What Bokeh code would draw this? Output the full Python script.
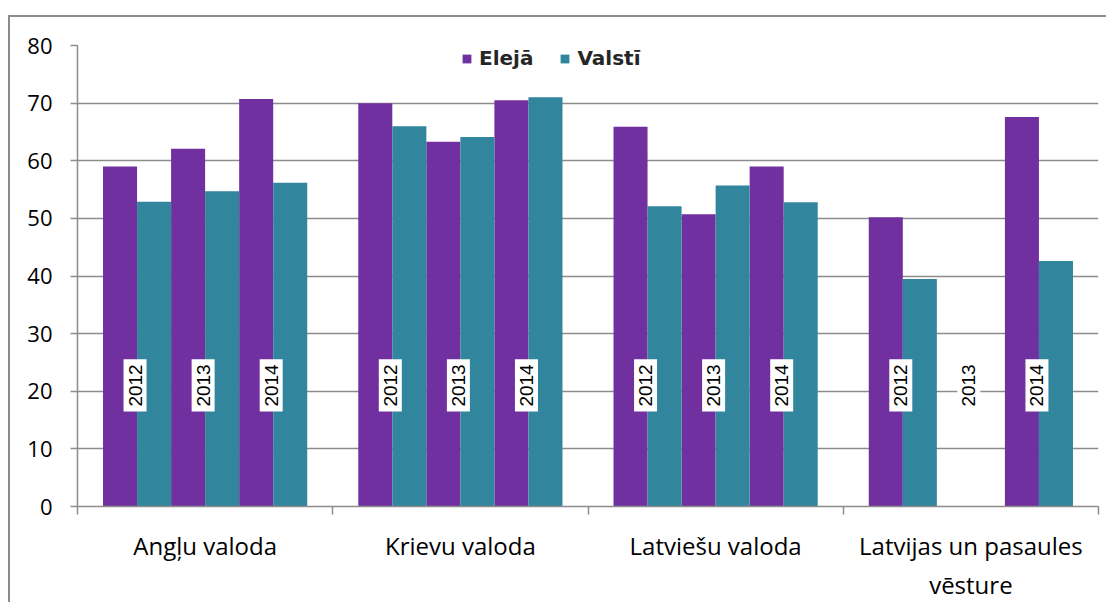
import math
from bokeh.plotting import figure
from bokeh.models import ColumnDataSource, FixedTicker, Range1d, Legend, LegendItem
from bokeh.core.properties import value
from bokeh.embed import file_html
from bokeh.resources import INLINE

# ---- data ----
categories = ["Angļu valoda", "Krievu valoda", "Latviešu valoda", "Latvijas un pasaules\nvēsture"]
years = ["2012", "2013", "2014"]
series = ["Elejā", "Valstī"]
eleja_2012 = [59.0, 70.0, 65.9, 50.2]
eleja_2013 = [62.1, 63.3, 50.7, float("nan")]
eleja_2014 = [70.7, 70.5, 59.0, 67.6]
valsti_2012 = [52.9, 66.0, 52.1, 39.5]
valsti_2013 = [54.7, 64.1, 55.7, float("nan")]
valsti_2014 = [56.2, 71.0, 52.8, 42.6]
y_ticks = [0, 10, 20, 30, 40, 50, 60, 70, 80]

eleja = [eleja_2012, eleja_2013, eleja_2014]
valsti = [valsti_2012, valsti_2013, valsti_2014]

PURPLE = "#7030A0"
TEAL = "#31859C"
GRID = "#8c8c8c"

# ---- layout of bars within each category (inner 80% of a unit slot) ----
bw = 0.8 / 6
ex, ey, vx, vy, lx, ly, lt = [], [], [], [], [], [], []
for ci in range(len(categories)):
    for yi in range(len(years)):
        base = ci + 0.1 + 2 * yi * bw
        ex.append(base + 0.5 * bw)
        ey.append(eleja[yi][ci])
        vx.append(base + 1.5 * bw)
        vy.append(valsti[yi][ci])
        lx.append(base + bw)
        ly.append(21)
        lt.append(years[yi])

src_e = ColumnDataSource(dict(x=ex, top=ey))
src_v = ColumnDataSource(dict(x=vx, top=vy))
src_l = ColumnDataSource(dict(x=lx, y=ly, text=lt))

p = figure(width=1098, height=587, output_backend="svg", toolbar_location=None,
           x_range=Range1d(0, len(categories)), y_range=Range1d(0, 80),
           min_border_left=67, min_border_top=28, min_border_right=10, min_border_bottom=92)
p.margin = (15, 0, 0, 8)
p.styles = {"border-left": "2px solid #8c8c8c", "border-top": "2px solid #8c8c8c"}
p.outline_line_color = None
p.background_fill_color = "white"
p.border_fill_color = "white"

r_e = p.vbar(x="x", top="top", width=bw, bottom=0, source=src_e, fill_color=PURPLE, line_color=None)
r_v = p.vbar(x="x", top="top", width=bw, bottom=0, source=src_v, fill_color=TEAL, line_color=None)

p.text(x="x", y="y", text="text", source=src_l, angle=math.pi / 2,
       text_align="center", text_baseline="middle",
       text_font=value("Liberation Sans"), text_font_size="19px", text_color="black",
       background_fill_color="white", padding=5, x_offset=-2)

# y axis
p.yaxis.ticker = FixedTicker(ticks=y_ticks)
p.yaxis.axis_line_color = GRID
p.yaxis.axis_line_width = 1.5
p.yaxis.major_tick_line_color = GRID
p.yaxis.major_tick_line_width = 1.5
p.yaxis.major_tick_out = 7
p.yaxis.major_tick_in = 0
p.yaxis.minor_tick_line_color = None
p.yaxis.major_label_text_font = "Open Sans"
p.yaxis.major_label_text_font_size = "22px"
p.yaxis.major_label_text_color = "black"
p.yaxis.major_label_standoff = 18

# x axis: labels at category centres, ticks at boundaries
centers = [i + 0.5 for i in range(len(categories))]
bounds = [i for i in range(len(categories) + 1)]
p.xaxis.ticker = FixedTicker(ticks=centers, minor_ticks=bounds)
p.xaxis.major_label_overrides = {c: lab for c, lab in zip(centers, categories)}
p.xaxis.major_tick_line_color = None
p.xaxis.minor_tick_line_color = GRID
p.xaxis.minor_tick_line_width = 1.5
p.xaxis.minor_tick_out = 8
p.xaxis.minor_tick_in = 0
p.xaxis.axis_line_color = GRID
p.xaxis.axis_line_width = 1.5
p.xaxis.major_label_text_font = "Open Sans"
p.xaxis.major_label_text_font_size = "24px"
p.xaxis.major_label_text_color = "black"
p.xaxis.major_label_standoff = 14

p.xgrid.grid_line_color = None
p.ygrid.ticker = FixedTicker(ticks=y_ticks)
p.ygrid.grid_line_color = GRID
p.ygrid.grid_line_width = 1.5

legend = Legend(items=[LegendItem(label=series[0], renderers=[r_e]),
                       LegendItem(label=series[1], renderers=[r_v])],
                orientation="horizontal", location=(384, 436),
                glyph_width=11, glyph_height=11, label_standoff=7, spacing=26,
                padding=9, margin=0,
                label_text_font="DejaVu Sans", label_text_font_style="bold",
                label_text_font_size="20px", label_text_color="#262626",
                border_line_color=None, background_fill_color="white", background_fill_alpha=1)
p.add_layout(legend, "center")

open("out.html", "w").write(file_html(p, INLINE))
